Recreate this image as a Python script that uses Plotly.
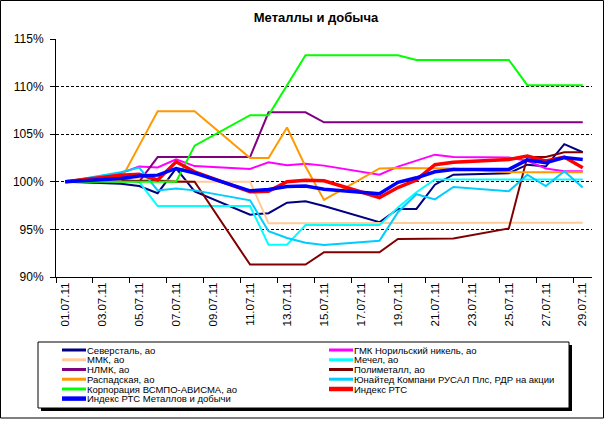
import plotly.graph_objects as go

dates = ['2011-07-01', '2011-07-04', '2011-07-05', '2011-07-06', '2011-07-07',
         '2011-07-08', '2011-07-11', '2011-07-12', '2011-07-13', '2011-07-14',
         '2011-07-15', '2011-07-18', '2011-07-19', '2011-07-20', '2011-07-21',
         '2011-07-22', '2011-07-25', '2011-07-26', '2011-07-27', '2011-07-28',
         '2011-07-29']

severstal = [100, 99.8, 99.55, 98.8, 101.4, 99.0, 96.55, 96.7, 97.8, 97.95, 97.45,
             95.75, 97.15, 97.15, 99.7, 100.75, 100.9, 101.8, 101.6, 103.95, 103.1]
gmk = [100, 100.9, 101.6, 101.5, 102.35, 101.65, 101.35, 102.05, 101.75, 101.9, 101.7,
       100.75, 101.6, 102.2, 102.85, 102.6, 102.55, 102.2, 101.4, 101.1, 101.1]
mmk = [100, 100.2, 100.3, 100.2, 100.1, 100.0, 100.0, 95.65, 95.65, 95.65, 95.65,
       95.65, 95.65, 95.65, 95.65, 95.7, 95.7, 95.7, 95.7, 95.7, 95.7]
mechel = [100, 100.4, 100.0, 97.45, 97.45, 97.45, 97.45, 93.4, 93.4, 95.45, 95.45,
          95.45, 97.3, 98.9, 100.25, 100.25, 100.25, 100.25, 100.25, 100.25, 100.25]
nlmk = [100, 100.2, 100.0, 102.6, 102.6, 102.6, 102.6, 107.3, 107.3, 107.3, 106.25,
        106.25, 106.25, 106.25, 106.25, 106.25, 106.25, 106.25, 106.25, 106.25, 106.25]
polymetal = [100, 100.1, 100.1, 100.1, 100.0, 100.0, 91.3, 91.3, 91.3, 91.3, 92.6,
             92.6, 94.0, 94.0, 94.0, 94.05, 95.1, 102.6, 102.6, 103.1, 103.1]
raspadskaya = [100, 100.2, 103.8, 107.4, 107.4, 107.4, 102.5, 102.5, 105.7, 101.6, 98.1,
               101.4, 101.45, 101.45, 101.45, 101.4, 101.0, 101.0, 101.0, 101.0, 101.0]
rusal = [100, 101.0, 101.5, 99.1, 99.3, 99.1, 98.05, 94.8, 94.1, 93.6, 93.35,
         93.8, 96.8, 98.7, 98.15, 99.45, 99.0, 100.75, 99.55, 101.1, 99.4]
vsmpo = [100, 100, 100, 100, 100, 103.8, 107.0, 107.0, 110.15, 113.3, 113.3,
         113.3, 113.3, 112.8, 112.8, 112.8, 112.8, 110.15, 110.15, 110.15, 110.15]
rts = [100, 100.7, 100.8, 100.2, 102.1, 101.05, 98.95, 99.0, 100.0, 100.17, 100.1,
       98.35, 99.4, 100.2, 101.8, 102.05, 102.35, 102.7, 102.2, 102.6, 101.47]
rts_metals = [100, 100.35, 100.6, 100.7, 101.4, 100.92, 99.05, 99.2, 99.5, 99.55, 99.22,
              98.75, 99.95, 100.42, 101.05, 101.3, 101.3, 102.3, 102.0, 102.55, 102.35]

names = ['Северсталь, ао', 'ГМК Норильский никель, ао', 'ММК, ао', 'Мечел, ао',
         'НЛМК, ао', 'Полиметалл, ао', 'Распадская, ао',
         'Юнайтед Компани РУСАЛ Плс, РДР на акции', 'Корпорация ВСМПО-АВИСМА, ао',
         'Индекс РТС', 'Индекс РТС Металлов и добычи']
series = [severstal, gmk, mmk, mechel, nlmk, polymetal, raspadskaya, rusal, vsmpo,
          rts, rts_metals]
colors = ['#000080', '#FF00FF', '#FFCC99', '#00FFFF', '#800080', '#800000', '#FF9900',
          '#00CCFF', '#00FF00', '#FF0000', '#0000FF']
widths = [2, 2, 2, 2, 2, 2, 2, 2, 2, 3.5, 3.5]

label_dates = ['2011-07-%02d' % d for d in range(1, 30, 2)]

FONT = 'Arial, Liberation Sans, sans-serif'
W, H = 606, 421
L, R, T, B = 56, 592, 39, 277


def px(x):
    return (x - L) / (R - L)


def py(y):
    return (B - y) / (B - T)


fig = go.Figure()
for name, vals, col, w in zip(names, series, colors, widths):
    fig.add_trace(go.Scatter(x=dates, y=vals, mode='lines', name=name,
                             line=dict(color=col, width=w), showlegend=False))

shapes = []
annotations = []

# outer chart border
shapes.append(dict(type='rect', xref='paper', yref='paper', x0=px(0.5), x1=px(603.5),
                   y0=py(0.5), y1=py(418), line=dict(color='black', width=1), layer='below'))

# legend box with shadow (drawn by hand: Plotly's legend rows can't be this tight)
shapes.append(dict(type='rect', xref='paper', yref='paper', x0=px(41), x1=px(572),
                   y0=py(345), y1=py(411), fillcolor='black', line=dict(width=0)))
shapes.append(dict(type='rect', xref='paper', yref='paper', x0=px(38), x1=px(569),
                   y0=py(342), y1=py(408), fillcolor='white',
                   line=dict(color='black', width=1)))

rows = [350, 359.8, 369.5, 379.2, 389, 398.6]
for i, (name, col, w) in enumerate(zip(names, colors, widths)):
    colx = [62, 329][i % 2]
    rowy = rows[i // 2]
    shapes.append(dict(type='line', xref='paper', yref='paper', x0=px(colx),
                       x1=px(colx + 24), y0=py(rowy), y1=py(rowy),
                       line=dict(color=col, width=w + 1)))
    annotations.append(dict(text=name, xref='paper', yref='paper', x=px(colx + 24),
                            y=py(rowy), xanchor='left', yanchor='middle', showarrow=False,
                            borderpad=0,
                            font=dict(family=FONT, size=9.5, color='black')))

fig.update_layout(
    width=W, height=H,
    margin=dict(l=L, r=W - R, t=T, b=H - B),
    paper_bgcolor='white', plot_bgcolor='white',
    title=dict(text='<b>Металлы и добыча</b>', x=316 / W, xanchor='center',
               y=1 - 17 / H, yanchor='middle',
               font=dict(family=FONT, size=13, color='black')),
    shapes=shapes, annotations=annotations,
    showlegend=False,
)

fig.update_xaxes(
    type='date', range=['2011-06-30 12:00', '2011-07-29 12:00'],
    tickmode='array', tickvals=label_dates, tickformat='%d.%m.%y',
    tickangle=-90, ticks='', showgrid=False,
    showline=True, linecolor='black', linewidth=1,
    tickfont=dict(family=FONT, size=11.5, color='black'),
    minor=dict(tickmode='linear', tick0='2011-06-30 12:00', dtick=2 * 86400000,
               ticks='outside', ticklen=5, tickcolor='black', showgrid=False),
)

fig.update_yaxes(
    range=[90, 115], dtick=5, tick0=90, ticksuffix='%',
    showgrid=True, gridcolor='black', gridwidth=1, griddash='3px,2px',
    zeroline=False, showline=True, linecolor='black', linewidth=1,
    ticks='outside', ticklen=5, tickcolor='black', ticklabelstandoff=4,
    tickfont=dict(family=FONT, size=12, color='black'),
)

# the page body has a default 8px margin; drop it so the figure sits at 0,0
fig.write_html('out.html', config={'displayModeBar': False},
               post_script="document.body.style.margin='0';"
                           "document.body.style.overflow='hidden';")
